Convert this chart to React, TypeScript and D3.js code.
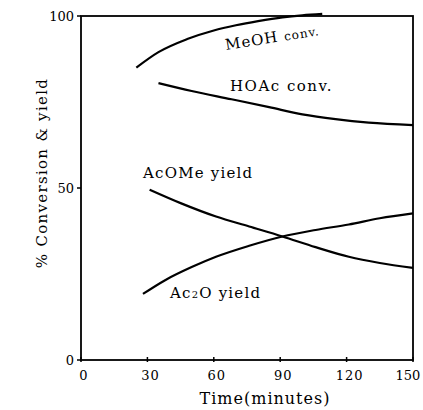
import * as d3 from 'd3';
import React from 'react';

// values (time in minutes, %)
const meohTime = [25, 35, 48, 60, 70, 80, 91, 100, 109];
const meohConv = [85, 89.5, 93.3, 95.8, 97.3, 98.5, 99.6, 100.2, 100.6];
const hoacTime = [35, 50, 68, 85, 100, 115, 130, 150];
const hoacConv = [80.5, 78.2, 75.8, 73.5, 71.4, 70, 69, 68.3];
const acomeTime = [31, 45, 61, 76, 91, 106, 121, 135, 150];
const acomeYield = [49.5, 45.6, 41.7, 38.8, 35.9, 32.8, 30, 28.2, 26.8];
const ac2oTime = [28, 38, 50, 61, 76, 91, 106, 121, 135, 150];
const ac2oYield = [19.2, 23.2, 27, 30, 33.2, 35.9, 37.8, 39.4, 41.2, 42.6];
const xTicks = [0, 30, 60, 90, 120, 150];
const yTicks = [0, 50, 100];

const W = 423;
const H = 410;
const left = 81;
const right = 413;
const top = 16;
const bottom = 360;
const font = '"DejaVu Serif", "Liberation Serif", serif';

export default function App() {
  const x = d3.scaleLinear().domain([0, 150]).range([left, right]);
  const y = d3.scaleLinear().domain([0, 100]).range([bottom, top]);

  const line = d3
    .line<[number, number]>()
    .x((d) => x(d[0]))
    .y((d) => y(d[1]))
    .curve(d3.curveMonotoneX);

  const series = [
    d3.zip(meohTime, meohConv),
    d3.zip(hoacTime, hoacConv),
    d3.zip(acomeTime, acomeYield),
    d3.zip(ac2oTime, ac2oYield),
  ] as [number, number][][];

  return (
    <svg
      width={W}
      height={H}
      style={{ position: 'absolute', left: 0, top: 0, background: '#fff' }}
    >
      <rect
        x={left}
        y={top}
        width={right - left}
        height={bottom - top}
        fill="none"
        stroke="#000"
        strokeWidth={1.8}
      />
      {xTicks.map((t) => (
        <g key={'x' + t}>
          <line x1={x(t)} x2={x(t)} y1={bottom - 3} y2={bottom + 2} stroke="#000" strokeWidth={1.5} />
          <text
            x={t === 150 ? x(t) - 5 : x(t) + 3}
            y={bottom + 20}
            textAnchor="middle"
            fontFamily={font}
            fontSize={13}
            letterSpacing={t === 150 ? 0 : 1}
          >
            {t}
          </text>
        </g>
      ))}
      {yTicks.map((t) => (
        <g key={'y' + t}>
          <line x1={left - 4} x2={left} y1={y(t)} y2={y(t)} stroke="#000" strokeWidth={1.5} />
          <text
            x={left - 7}
            y={y(t) + 5}
            textAnchor="end"
            fontFamily={font}
            fontSize={13}
          >
            {t}
          </text>
        </g>
      ))}
      {series.map((s, i) => (
        <path key={i} d={line(s) ?? ''} fill="none" stroke="#000" strokeWidth={2.2} />
      ))}
      <text
        x={226}
        y={50}
        fontFamily={font}
        fontSize={15}
        letterSpacing={1}
        transform="rotate(-9 226 50)"
      >
        MeOH <tspan fontSize={12}>conv.</tspan>
      </text>
      <text x={230} y={91} fontFamily={font} fontSize={15} letterSpacing={1.5}>
        HOAc conv.
      </text>
      <text x={143} y={178} fontFamily={font} fontSize={15} letterSpacing={1.2}>
        AcOMe yield
      </text>
      <text x={170} y={298} fontFamily={font} fontSize={15} letterSpacing={1.2}>
        Ac<tspan fontSize={10}>2</tspan>O yield
      </text>
      <text
        transform="translate(47,173) rotate(-90)"
        textAnchor="middle"
        fontFamily={font}
        fontSize={15}
        letterSpacing={1.3}
      >
        % Conversion &amp; yield
      </text>
      <text
        x={265}
        y={404}
        textAnchor="middle"
        fontFamily={font}
        fontSize={16}
        letterSpacing={1}
      >
        Time(minutes)
      </text>
    </svg>
  );
}
